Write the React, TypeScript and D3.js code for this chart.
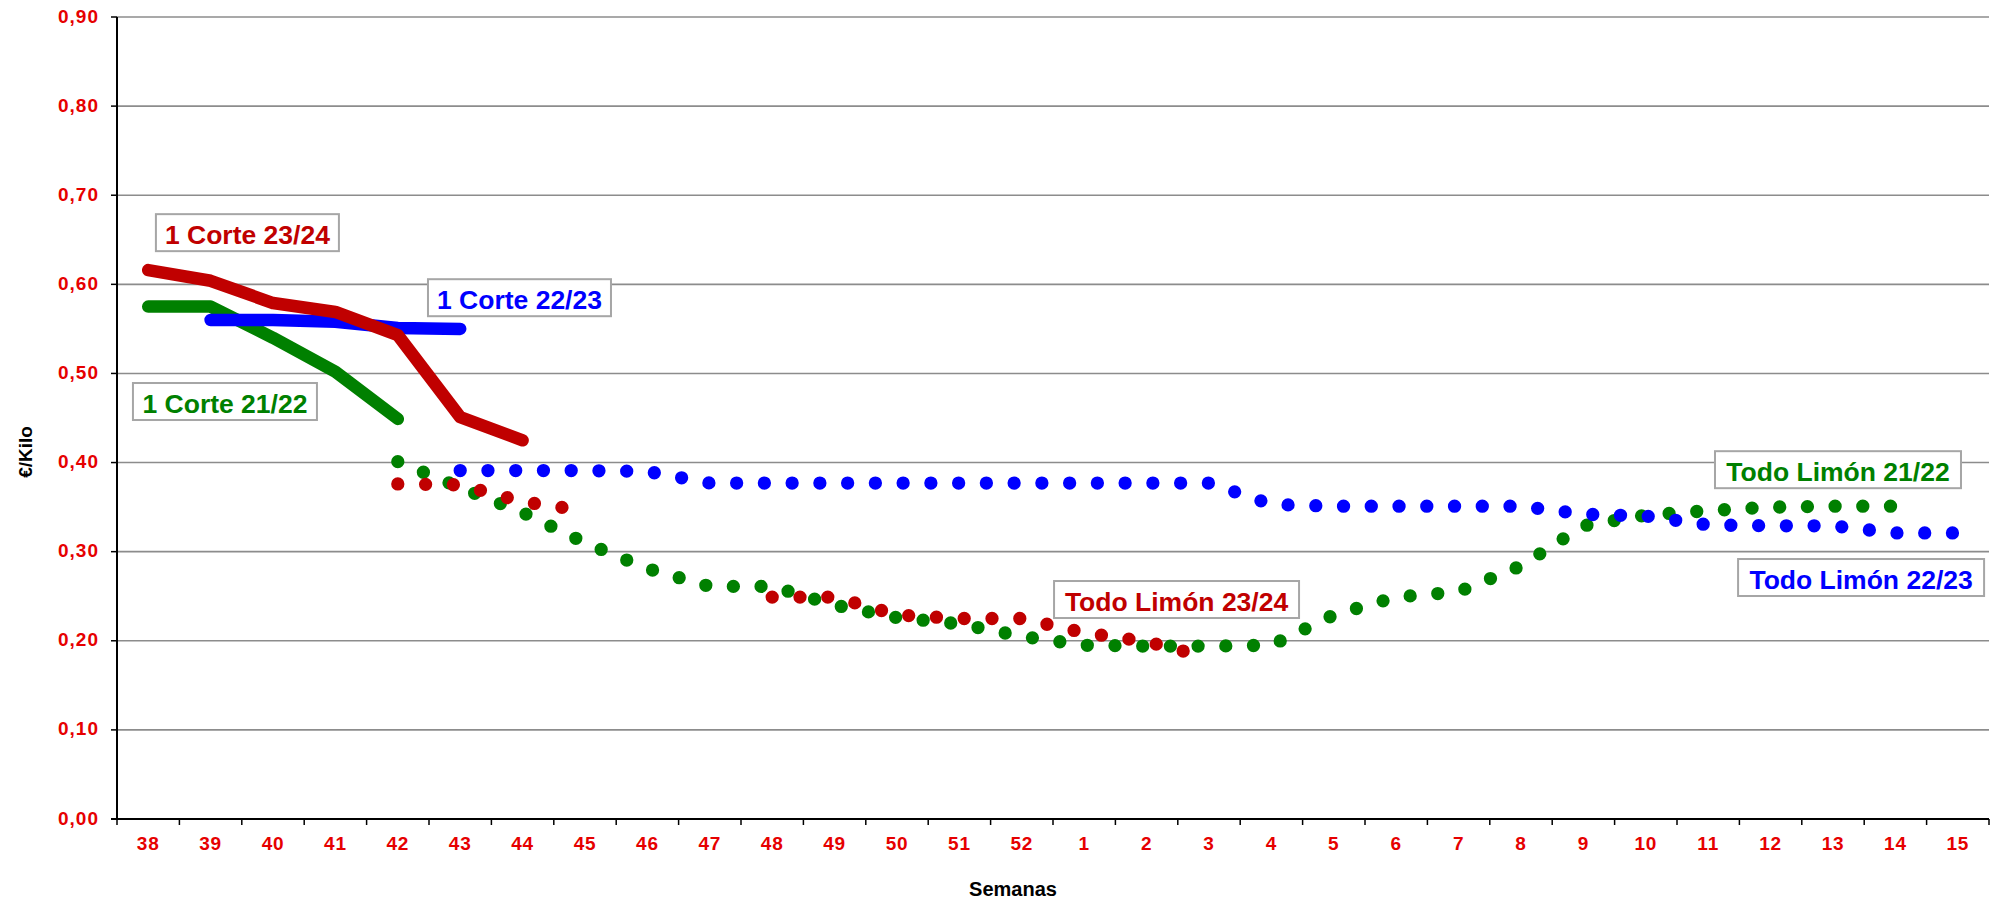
import * as d3 from 'd3';

// Weeks of the campaign (x categories)
const weeks = [
  '38', '39', '40', '41', '42', '43', '44', '45', '46', '47', '48', '49', '50', '51', '52',
  '1', '2', '3', '4', '5', '6', '7', '8', '9', '10', '11', '12', '13', '14', '15',
];

const yTicks = [0, 0.1, 0.2, 0.3, 0.4, 0.5, 0.6, 0.7, 0.8, 0.9];

type V = number | null;
const _ = null;

// "1 Corte" (solid)
const corte2122: V[] = [0.575, 0.575, 0.54, 0.502, 0.449];
const corte2223: V[] = [_, 0.56, 0.56, 0.558, 0.551, 0.55];
const corte2324: V[] = [0.616, 0.604, 0.579, 0.569, 0.543, 0.451, 0.425];

// "Todo Limón" (dotted)
const todo2122: V[] = [
  _, _, _, _, 0.401, 0.372, 0.344, 0.31, 0.281, 0.261, 0.261, 0.24, 0.226, 0.219, 0.205,
  0.195, 0.194, 0.194, 0.195, 0.229, 0.249, 0.255, 0.284, 0.329, 0.341, 0.346, 0.35, 0.351, 0.351,
];
const todo2223: V[] = [
  _, _, _, _, _, 0.391, 0.391, 0.391, 0.39, 0.377, 0.377, 0.377, 0.377, 0.377, 0.377,
  0.377, 0.377, 0.377, 0.353, 0.351, 0.351, 0.351, 0.351, 0.342, 0.34, 0.33, 0.329, 0.329, 0.321, 0.321,
];
const todo2324: V[] = [
  _, _, _, _, 0.376, 0.375, 0.356, 0.346, _, _, 0.249, 0.249, 0.229, 0.225, 0.225,
  0.209, 0.199, 0.181,
];

const RED = '#c00000';
const BLUE = '#0000ff';
const GREEN = '#008000';
const TICK_RED = '#e60000';

// label anchors in data units (week index, value)
const labels = [
  { text: '1 Corte 23/24', color: RED, at: 1.59, v: 0.658, w: 183 },
  { text: '1 Corte 22/23', color: BLUE, at: 5.95, v: 0.585, w: 183 },
  { text: '1 Corte 21/22', color: GREEN, at: 1.23, v: 0.4685, w: 184 },
  { text: 'Todo Limón 23/24', color: RED, at: 16.48, v: 0.2463, w: 245 },
  { text: 'Todo Limón 21/22', color: GREEN, at: 27.08, v: 0.392, w: 246 },
  { text: 'Todo Limón 22/23', color: BLUE, at: 27.45, v: 0.271, w: 246 },
];

const W = 2002;
const H = 903;
const LEFT = 117;
const RIGHT = 1989;
const TOP = 17;
const BOTTOM = 819;

const x = d3.scaleBand<string>().domain(weeks).range([LEFT, RIGHT]).padding(0);
const y = d3.scaleLinear().domain([0, 0.9]).range([BOTTOM, TOP]);
const step = x.bandwidth();
const cx = (i: number) => LEFT + step * (i + 0.5);

const line = d3
  .line<[number, number]>()
  .x((d) => cx(d[0]))
  .y((d) => y(d[1]));

// split into contiguous runs so the dot pattern restarts like in Excel
function runs(vals: V[]): string[] {
  const out: string[] = [];
  let cur: [number, number][] = [];
  vals.forEach((v, i) => {
    if (v == null) {
      if (cur.length) out.push(line(cur)!);
      cur = [];
    } else cur.push([i, v]);
  });
  if (cur.length) out.push(line(cur)!);
  return out;
}

const fmt = (v: number) => v.toFixed(2).replace('.', ',');

export default function App() {
  const solid = [
    { vals: corte2122, color: GREEN },
    { vals: corte2223, color: BLUE },
    { vals: corte2324, color: RED },
  ];
  const dotted = [
    { vals: todo2122, color: GREEN, gap: 27.7 },
    { vals: todo2223, color: BLUE, gap: 27.75 },
    { vals: todo2324, color: RED, gap: 27.8 },
  ];

  return (
    <svg
      width={W}
      height={H}
      style={{ position: 'absolute', left: 0, top: 0, background: '#fff' }}
      fontFamily="'Liberation Sans', Arial, sans-serif"
    >
      {/* gridlines */}
      {yTicks
        .filter((t) => t > 0)
        .map((t) => (
          <line key={t} x1={LEFT} x2={RIGHT} y1={y(t)} y2={y(t)} stroke="#8c8c8c" strokeWidth={1.6} />
        ))}

      {/* series */}
      {solid.map((s, k) =>
        runs(s.vals).map((d, j) => (
          <path
            key={`s${k}-${j}`}
            d={d}
            fill="none"
            stroke={s.color}
            strokeWidth={12.5}
            strokeLinecap="round"
            strokeLinejoin="round"
          />
        ))
      )}
      {dotted.map((s, k) =>
        runs(s.vals).map((d, j) => (
          <path
            key={`d${k}-${j}`}
            d={d}
            fill="none"
            stroke={s.color}
            strokeWidth={13.3}
            strokeLinecap="round"
            strokeDasharray={`0 ${s.gap}`}
          />
        ))
      )}

      {/* axes */}
      <line x1={LEFT} x2={LEFT} y1={TOP} y2={BOTTOM} stroke="#000" strokeWidth={2} />
      <line x1={LEFT - 6} x2={RIGHT} y1={BOTTOM} y2={BOTTOM} stroke="#000" strokeWidth={2} />
      {yTicks.map((t) => (
        <g key={`yt${t}`}>
          <line x1={LEFT - 6} x2={LEFT} y1={y(t)} y2={y(t)} stroke="#000" strokeWidth={1.5} />
          <text
            x={99}
            y={y(t) + 5.5}
            textAnchor="end"
            fontWeight="bold"
            fontSize={19}
            letterSpacing={1}
            fill={TICK_RED}
          >
            {fmt(t)}
          </text>
        </g>
      ))}
      {weeks.map((w, i) => (
        <line
          key={`xt${w}-${i}`}
          x1={x(w)!}
          x2={x(w)!}
          y1={BOTTOM}
          y2={BOTTOM + 6}
          stroke="#000"
          strokeWidth={1.5}
        />
      ))}
      <line x1={RIGHT} x2={RIGHT} y1={BOTTOM} y2={BOTTOM + 6} stroke="#000" strokeWidth={1.5} />
      {weeks.map((w, i) => (
        <text
          key={`xl${w}-${i}`}
          x={cx(i)}
          y={850}
          textAnchor="middle"
          fontWeight="bold"
          fontSize={19}
          letterSpacing={0.8}
          fill={TICK_RED}
        >
          {w}
        </text>
      ))}

      {/* axis titles */}
      <text x={1013} y={896} textAnchor="middle" fontWeight="bold" fontSize={20} fill="#000">
        Semanas
      </text>
      <text
        transform="translate(32,452) rotate(-90)"
        textAnchor="middle"
        fontWeight="bold"
        fontSize={19}
        fill="#000"
      >
        €/Kilo
      </text>

      {/* series labels */}
      {labels.map((l) => {
        const lx = LEFT + step * (l.at + 0.5);
        const ly = y(l.v);
        return (
          <g key={l.text}>
            <rect
              x={lx - l.w / 2}
              y={ly - 18.5}
              width={l.w}
              height={37}
              fill="#fff"
              stroke="#a6a6a6"
              strokeWidth={2}
            />
            <text x={lx} y={ly + 11.5} textAnchor="middle" fontWeight="bold" fontSize={26.5} fill={l.color}>
              {l.text}
            </text>
          </g>
        );
      })}
    </svg>
  );
}
